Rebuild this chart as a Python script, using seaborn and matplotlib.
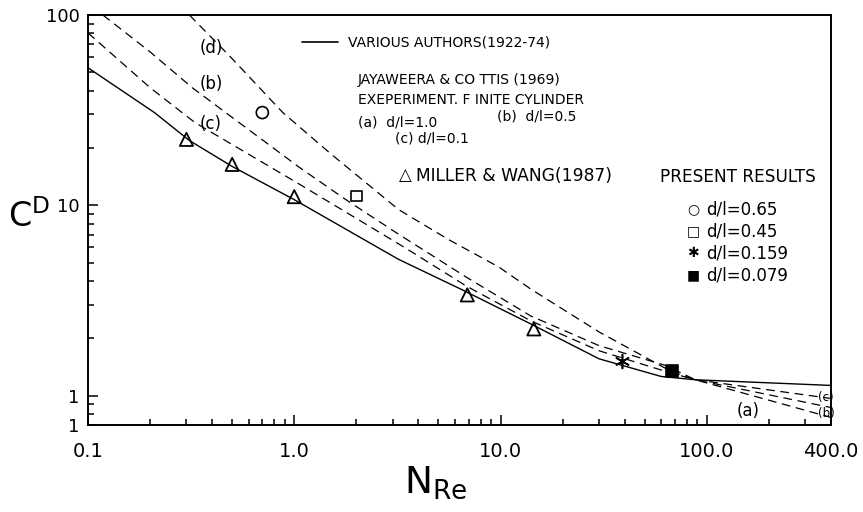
import numpy as np
import pandas as pd
import matplotlib
matplotlib.use("Agg")
import matplotlib.pyplot as plt
import seaborn as sns
from matplotlib.lines import Line2D
from matplotlib.ticker import FixedLocator, FixedFormatter, LogLocator, NullFormatter

sns.set_style("ticks")
plt.rcParams["font.family"] = ["DejaVu Sans"]
plt.rcParams["text.color"] = "black"
plt.rcParams["mathtext.fontset"] = "dejavusans"
plt.rcParams["axes.unicode_minus"] = False

# 数据
various_x = [0.1, 0.21, 0.31, 0.5, 1.0, 3.2, 6.5, 14, 30, 60, 88, 400]
various_y = [52.8, 30.7, 21.9, 16.0, 10.7, 5.2, 3.6, 2.38, 1.56, 1.26, 1.21, 1.13]

curve_d_x = [0.31, 0.49, 0.88, 1.48, 3.2, 5.6, 9.8, 14, 30, 67, 88, 400]
curve_d_y = [100, 60.3, 30.7, 18.9, 9.5, 6.6, 4.74, 3.63, 2.16, 1.34, 1.21, 0.767]

curve_b_x = [0.118, 0.2, 0.32, 1.06, 1.78, 3.2, 6.8, 14, 30, 63, 88, 400]
curve_b_y = [100, 64.0, 41.5, 15.8, 10.7, 7.05, 4.2, 2.62, 1.83, 1.44, 1.21, 0.865]

curve_c_x = [0.1, 0.2, 0.33, 1.06, 3.4, 6.8, 14, 30, 63, 88, 400]
curve_c_y = [80.5, 41.5, 27.2, 12.9, 6.03, 3.77, 2.47, 1.72, 1.34, 1.21, 0.965]

miller_x = [0.3, 0.5, 1.0, 6.9, 14.5]
miller_y = [22.2, 16.4, 11.1, 3.38, 2.24]

present_labels = ["d/l=0.65", "d/l=0.45", "d/l=0.159", "d/l=0.079"]
present_x = [0.7, 2.0, 39, 68]
present_y = [30.7, 11.2, 1.51, 1.34]

xticks = [0.1, 1, 10, 100, 400]
xtick_labels = ["0.1", "1.0", "10.0", "100.0", "400.0"]
yticks = [0.7, 1, 10, 100]
ytick_labels = ["1", "1", "10", "100"]

W, H = 863, 512
fig = plt.figure(figsize=(W / 100, H / 100), dpi=100)
ax = fig.add_axes([88 / W, 1 - 425 / H, (831 - 88) / W, (425 - 15) / H])


def ftext(px, py, s, **kw):
    kw.setdefault("va", "center")
    kw.setdefault("fontsize", 10)
    return fig.text(px / W, 1 - py / H, s, **kw)


# 曲线
sns.lineplot(x=various_x, y=various_y, ax=ax, color="black", lw=1.0, estimator=None)
for cx, cy in [(curve_d_x, curve_d_y), (curve_b_x, curve_b_y), (curve_c_x, curve_c_y)]:
    sns.lineplot(x=cx, y=cy, ax=ax, color="black", lw=0.9, linestyle=(0, (7, 4.5)), estimator=None)

# 数据点
pts = sns.scatterplot(x=miller_x, y=miller_y, ax=ax, marker="^", s=90).collections[-1]
pts.set_facecolor("none"); pts.set_edgecolor("black"); pts.set_linewidth(1.3)
open_markers = ["o", "s", (6, 2, 0), "s"]
for i, mk in enumerate(open_markers):
    sz = [75, 55, 100, 75][i]
    p = sns.scatterplot(x=[present_x[i]], y=[present_y[i]], ax=ax, marker=mk, s=sz).collections[-1]
    p.set_edgecolor("black"); p.set_linewidth(1.2)
    p.set_facecolor("black" if i == 3 else "none")

ax.set_xscale("log"); ax.set_yscale("log")
ax.set_xlim(0.1, 400); ax.set_ylim(0.7, 100)
ax.xaxis.set_major_locator(FixedLocator(xticks))
ax.xaxis.set_major_formatter(FixedFormatter(xtick_labels))
ax.xaxis.set_minor_locator(LogLocator(base=10, subs=np.arange(2, 10)))
ax.xaxis.set_minor_formatter(NullFormatter())
ax.yaxis.set_major_locator(FixedLocator(yticks))
ax.yaxis.set_major_formatter(FixedFormatter(ytick_labels))
ax.yaxis.set_minor_locator(LogLocator(base=10, subs=np.arange(2, 10)))
ax.yaxis.set_minor_formatter(NullFormatter())
ax.tick_params(which="both", direction="in", top=False, right=False, width=1.1, colors="black")
ax.tick_params(which="major", length=7)
ax.tick_params(which="minor", length=4)
ax.tick_params(axis="x", pad=12, labelsize=14)
ax.tick_params(axis="y", pad=6, labelsize=13)
for sp in ax.spines.values():
    sp.set_linewidth(1.4); sp.set_color("black")
ax.set_xlabel(""); ax.set_ylabel("")

# 图例文字
fig.add_artist(Line2D([302 / W, 338 / W], [1 - 42 / H] * 2, color="black", lw=1.2))
ftext(348, 42, "VARIOUS AUTHORS(1922-74)")
ftext(358, 80, "JAYAWEERA & CO TTIS (1969)")
ftext(358, 100, "EXEPERIMENT. F INITE CYLINDER")
ftext(358, 123, "(a)  d/l=1.0")
ftext(497, 117, "(b)  d/l=0.5")
ftext(395, 138, "(c) d/l=0.1")
ftext(405, 175, "△", ha="center", fontsize=12)
ftext(416, 176, "MILLER & WANG(1987)", fontsize=12.3)
ftext(660, 177, "PRESENT RESULTS", fontsize=12.2)
for lab, sym, yy in zip(present_labels, ["○", "□", "✱", "■"], [209, 231, 253, 275]):
    ftext(693, yy, sym, ha="center", fontsize=10)
    ftext(706, yy, lab, fontsize=12)

# 曲线标注
ftext(211, 48, "(d)", fontsize=12, ha="center")
ftext(211, 84, "(b)", fontsize=12, ha="center")
ftext(211, 124, "(c)", fontsize=12, ha="center")
ftext(748, 411, "(a)", fontsize=12, ha="center")
ftext(826, 398, "(c)", fontsize=8.5, ha="center")
ftext(826, 413, "(b)", fontsize=8.5, ha="center")

# 坐标轴标题
ftext(8, 217, r"C$^{\mathregular{D}}$", ha="left", fontsize=24)
ftext(404, 483, r"N$_{\mathregular{Re}}$", ha="left", fontsize=27)

fig.savefig("out.png", dpi=100)
